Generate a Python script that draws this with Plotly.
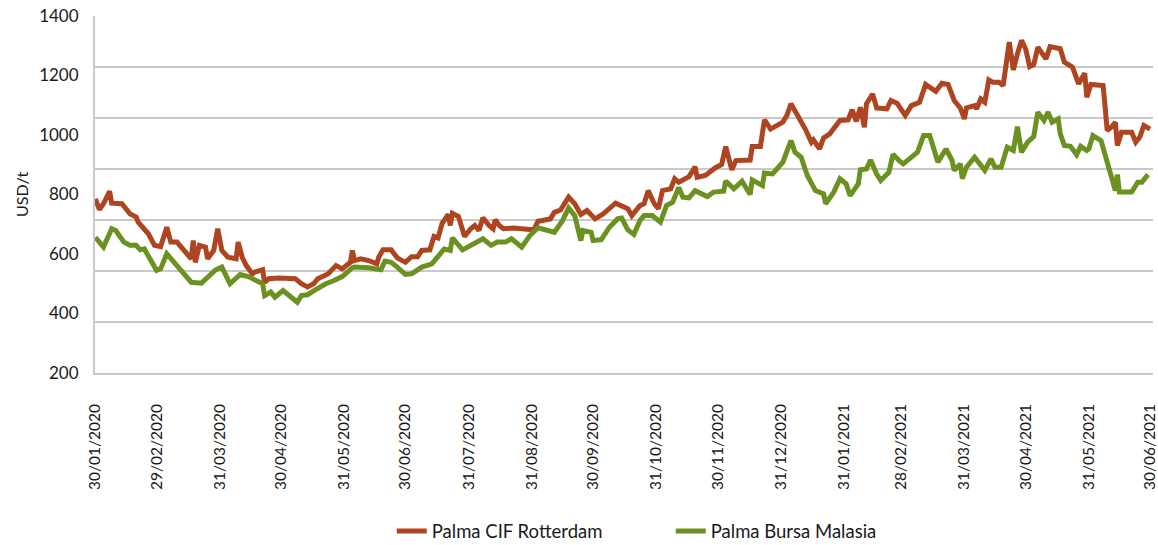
import pandas as pd
import plotly.graph_objects as go

# days after 30/01/2020
rotterdam_days = [0, 2, 4, 7, 8, 13, 17, 20, 21, 26, 29, 32, 35, 37, 40, 44, 47, 48, 49, 51,
                  54, 55, 58, 60, 62, 65, 69, 70, 72, 74, 77, 78, 82, 83, 85, 90, 98, 101, 104, 107,
                  109, 114, 118, 121, 125, 126, 127, 130, 134, 138, 139, 141, 145, 148, 152, 155, 158, 160, 164, 166,
                  168, 170, 173, 174, 175, 178, 181, 184, 186, 188, 190, 193, 195, 196, 198, 200, 205, 213, 215, 217,
                  221, 223, 225, 228, 232, 235, 238, 241, 245, 249, 255, 257, 261, 263, 267, 269, 271, 274, 276, 278,
                  282, 284, 286, 291, 294, 295, 299, 304, 307, 309, 312, 314, 317, 321, 322, 326, 328, 331, 337, 339,
                  341, 345, 348, 351, 352, 355, 357, 360, 365, 369, 371, 373, 375, 377, 378, 381, 383, 388, 390, 393,
                  397, 400, 404, 407, 412, 415, 418, 421, 424, 426, 427, 431, 432, 434, 436, 438, 440, 443, 445, 448,
                  450, 452, 454, 456, 458, 460, 462, 466, 468, 473, 475, 479, 482, 485, 486, 488, 494, 495, 496, 498,
                  500, 501, 503, 508, 510, 512, 514, 517]
rotterdam = [785, 749, 769, 811, 771, 769, 735, 724, 707, 668, 629, 625, 690, 640, 640, 606, 584, 645, 572, 629,
             623, 584, 612, 685, 612, 589, 584, 640, 589, 561, 533, 539, 547, 505, 517, 519, 517, 500, 489, 500,
             517, 533, 561, 550, 572, 612, 578, 584, 578, 567, 591, 614, 614, 587, 572, 591, 591, 612, 614, 659,
             654, 703, 733, 696, 737, 726, 659, 685, 696, 679, 722, 696, 685, 715, 696, 685, 687, 682, 682, 710,
             718, 718, 740, 748, 791, 769, 733, 746, 718, 735, 771, 766, 752, 729, 763, 769, 813, 769, 752, 813,
             819, 853, 841, 860, 893, 858, 864, 890, 901, 961, 883, 914, 916, 916, 961, 961, 1051, 1020, 1043, 1066,
             1105, 1060, 1020, 976, 984, 953, 990, 1004, 1049, 1051, 1085, 1046, 1093, 1026, 1105, 1138, 1091, 1088, 1116, 1107,
             1066, 1099, 1110, 1170, 1147, 1174, 1170, 1116, 1091, 1054, 1091, 1099, 1088, 1121, 1110, 1185, 1177, 1177, 1166, 1312,
             1219, 1273, 1318, 1290, 1230, 1237, 1295, 1256, 1297, 1290, 1245, 1228, 1172, 1208, 1127, 1170, 1166, 1093, 1015, 1026,
             1043, 965, 1009, 1009, 976, 993, 1032, 1020]

bursa_days = [0, 3, 4, 8, 10, 14, 17, 20, 22, 24, 30, 32, 35, 40, 47, 52, 59, 62, 66, 71,
              75, 82, 83, 86, 88, 92, 95, 99, 101, 104, 108, 113, 117, 121, 126, 127, 134, 140, 142, 145,
              148, 152, 155, 160, 165, 171, 174, 175, 180, 184, 190, 194, 197, 201, 204, 209, 213, 217, 221, 225,
              229, 232, 235, 238, 239, 243, 244, 248, 252, 256, 258, 261, 264, 267, 269, 273, 277, 280, 283, 286,
              288, 291, 294, 300, 303, 308, 309, 313, 317, 321, 322, 327, 328, 332, 337, 341, 343, 346, 349, 353,
              357, 358, 362, 365, 368, 370, 374, 375, 378, 380, 383, 385, 389, 391, 394, 396, 403, 406, 409, 412,
              413, 417, 420, 421, 424, 425, 427, 431, 436, 439, 441, 444, 447, 450, 452, 454, 457, 460, 462, 465,
              467, 469, 472, 473, 475, 478, 481, 483, 486, 487, 489, 493, 496, 500, 501, 502, 508, 511, 513, 516]
bursa = [656, 629, 623, 685, 679, 640, 629, 629, 614, 617, 545, 550, 601, 561, 505, 502, 547, 556, 500, 531,
         524, 500, 460, 472, 455, 477, 460, 438, 460, 463, 480, 500, 511, 524, 554, 556, 554, 547, 576, 572,
         556, 531, 533, 556, 567, 617, 612, 654, 614, 629, 651, 629, 640, 640, 651, 623, 662, 688, 679, 673,
         712, 755, 729, 645, 679, 673, 645, 648, 690, 718, 721, 681, 666, 713, 729, 729, 707, 763, 774, 824,
         791, 789, 813, 793, 808, 811, 845, 819, 845, 800, 849, 830, 872, 869, 909, 981, 942, 925, 864, 813,
         802, 769, 808, 853, 836, 796, 836, 883, 886, 916, 869, 847, 875, 935, 914, 903, 942, 998, 998, 925,
         909, 953, 914, 881, 903, 853, 892, 925, 881, 920, 892, 892, 959, 948, 1028, 942, 976, 995, 1077, 1049,
         1077, 1043, 1054, 1004, 965, 962, 934, 962, 948, 953, 998, 981, 914, 813, 867, 808, 808, 841, 841, 867]

tick_dates = ["2020-01-30", "2020-02-29", "2020-03-31", "2020-04-30", "2020-05-31", "2020-06-30",
              "2020-07-31", "2020-08-31", "2020-09-30", "2020-10-31", "2020-11-30", "2020-12-31",
              "2021-01-31", "2021-02-28", "2021-03-31", "2021-04-30", "2021-05-31", "2021-06-30"]
tick_labels = [pd.Timestamp(d).strftime("%d/%m/%Y") for d in tick_dates]
y_ticks = [200, 400, 600, 800, 1000, 1200, 1400]

start = pd.Timestamp("2020-01-30")
red_x = start + pd.to_timedelta(rotterdam_days, unit="D")
green_x = start + pd.to_timedelta(bursa_days, unit="D")

font = "Lato, 'Open Sans', sans-serif"
grid = "#C9C9C9"

fig = go.Figure()
fig.add_trace(go.Scatter(x=red_x, y=rotterdam, mode="lines", name="Palma CIF Rotterdam",
                         line=dict(color="#AE4520", width=5)))
fig.add_trace(go.Scatter(x=green_x, y=bursa, mode="lines", name="Palma Bursa Malasia",
                         line=dict(color="#6B9220", width=5)))
# empty trace so the label axis gets drawn
fig.add_trace(go.Scatter(x=[tick_dates[0]], y=[None], yaxis="y2", showlegend=False,
                         hoverinfo="skip", mode="lines"))

fig.update_layout(
    width=1158, height=545,
    margin=dict(l=95, r=5, t=16, b=172),
    plot_bgcolor="white", paper_bgcolor="white",
    font=dict(family=font, size=16, color="#1a1a1a"),
    showlegend=True,
    legend=dict(orientation="h", x=0.2805, xanchor="left", yref="container", y=0.025, yanchor="middle",
                font=dict(size=18.5), entrywidth=234, entrywidthmode="pixels"),
    xaxis=dict(type="date", range=["2020-01-29 20:00", "2021-07-01 11:00"],
               tickvals=tick_dates, ticktext=tick_labels, tickangle=-90,
               ticks="outside", ticklen=23, tickcolor="rgba(0,0,0,0)",
               showgrid=False, showline=True, linecolor=grid, linewidth=1.5,
               tickfont=dict(size=15.5), automargin=False, ticklabeloverflow="allow"),
    # grid only (the source chart spaces its gridlines in 7 bands)
    yaxis=dict(range=[199.9, 1400.1], tick0=200, dtick=1200 / 7, showticklabels=False,
               showgrid=True, gridcolor=grid, gridwidth=1.5, zeroline=False,
               showline=True, linecolor=grid, linewidth=1.5, ticks="", automargin=False),
    yaxis2=dict(range=[199.9, 1400.1], overlaying="y", side="left", tickvals=y_ticks,
                showgrid=False, zeroline=False, ticks="outside", ticklen=12,
                tickcolor="rgba(0,0,0,0)", tickfont=dict(size=17), automargin=False),
    annotations=[dict(text="USD/t", textangle=-90, xref="paper", yref="paper",
                      x=-0.0695, y=0.5, xanchor="center", yanchor="middle",
                      showarrow=False, font=dict(size=16))],
)

# drop the default 8px page margin so the figure sits at the window origin
fig.write_html("out.html", config={"displayModeBar": False},
               post_script="document.body.style.margin='0px';")
